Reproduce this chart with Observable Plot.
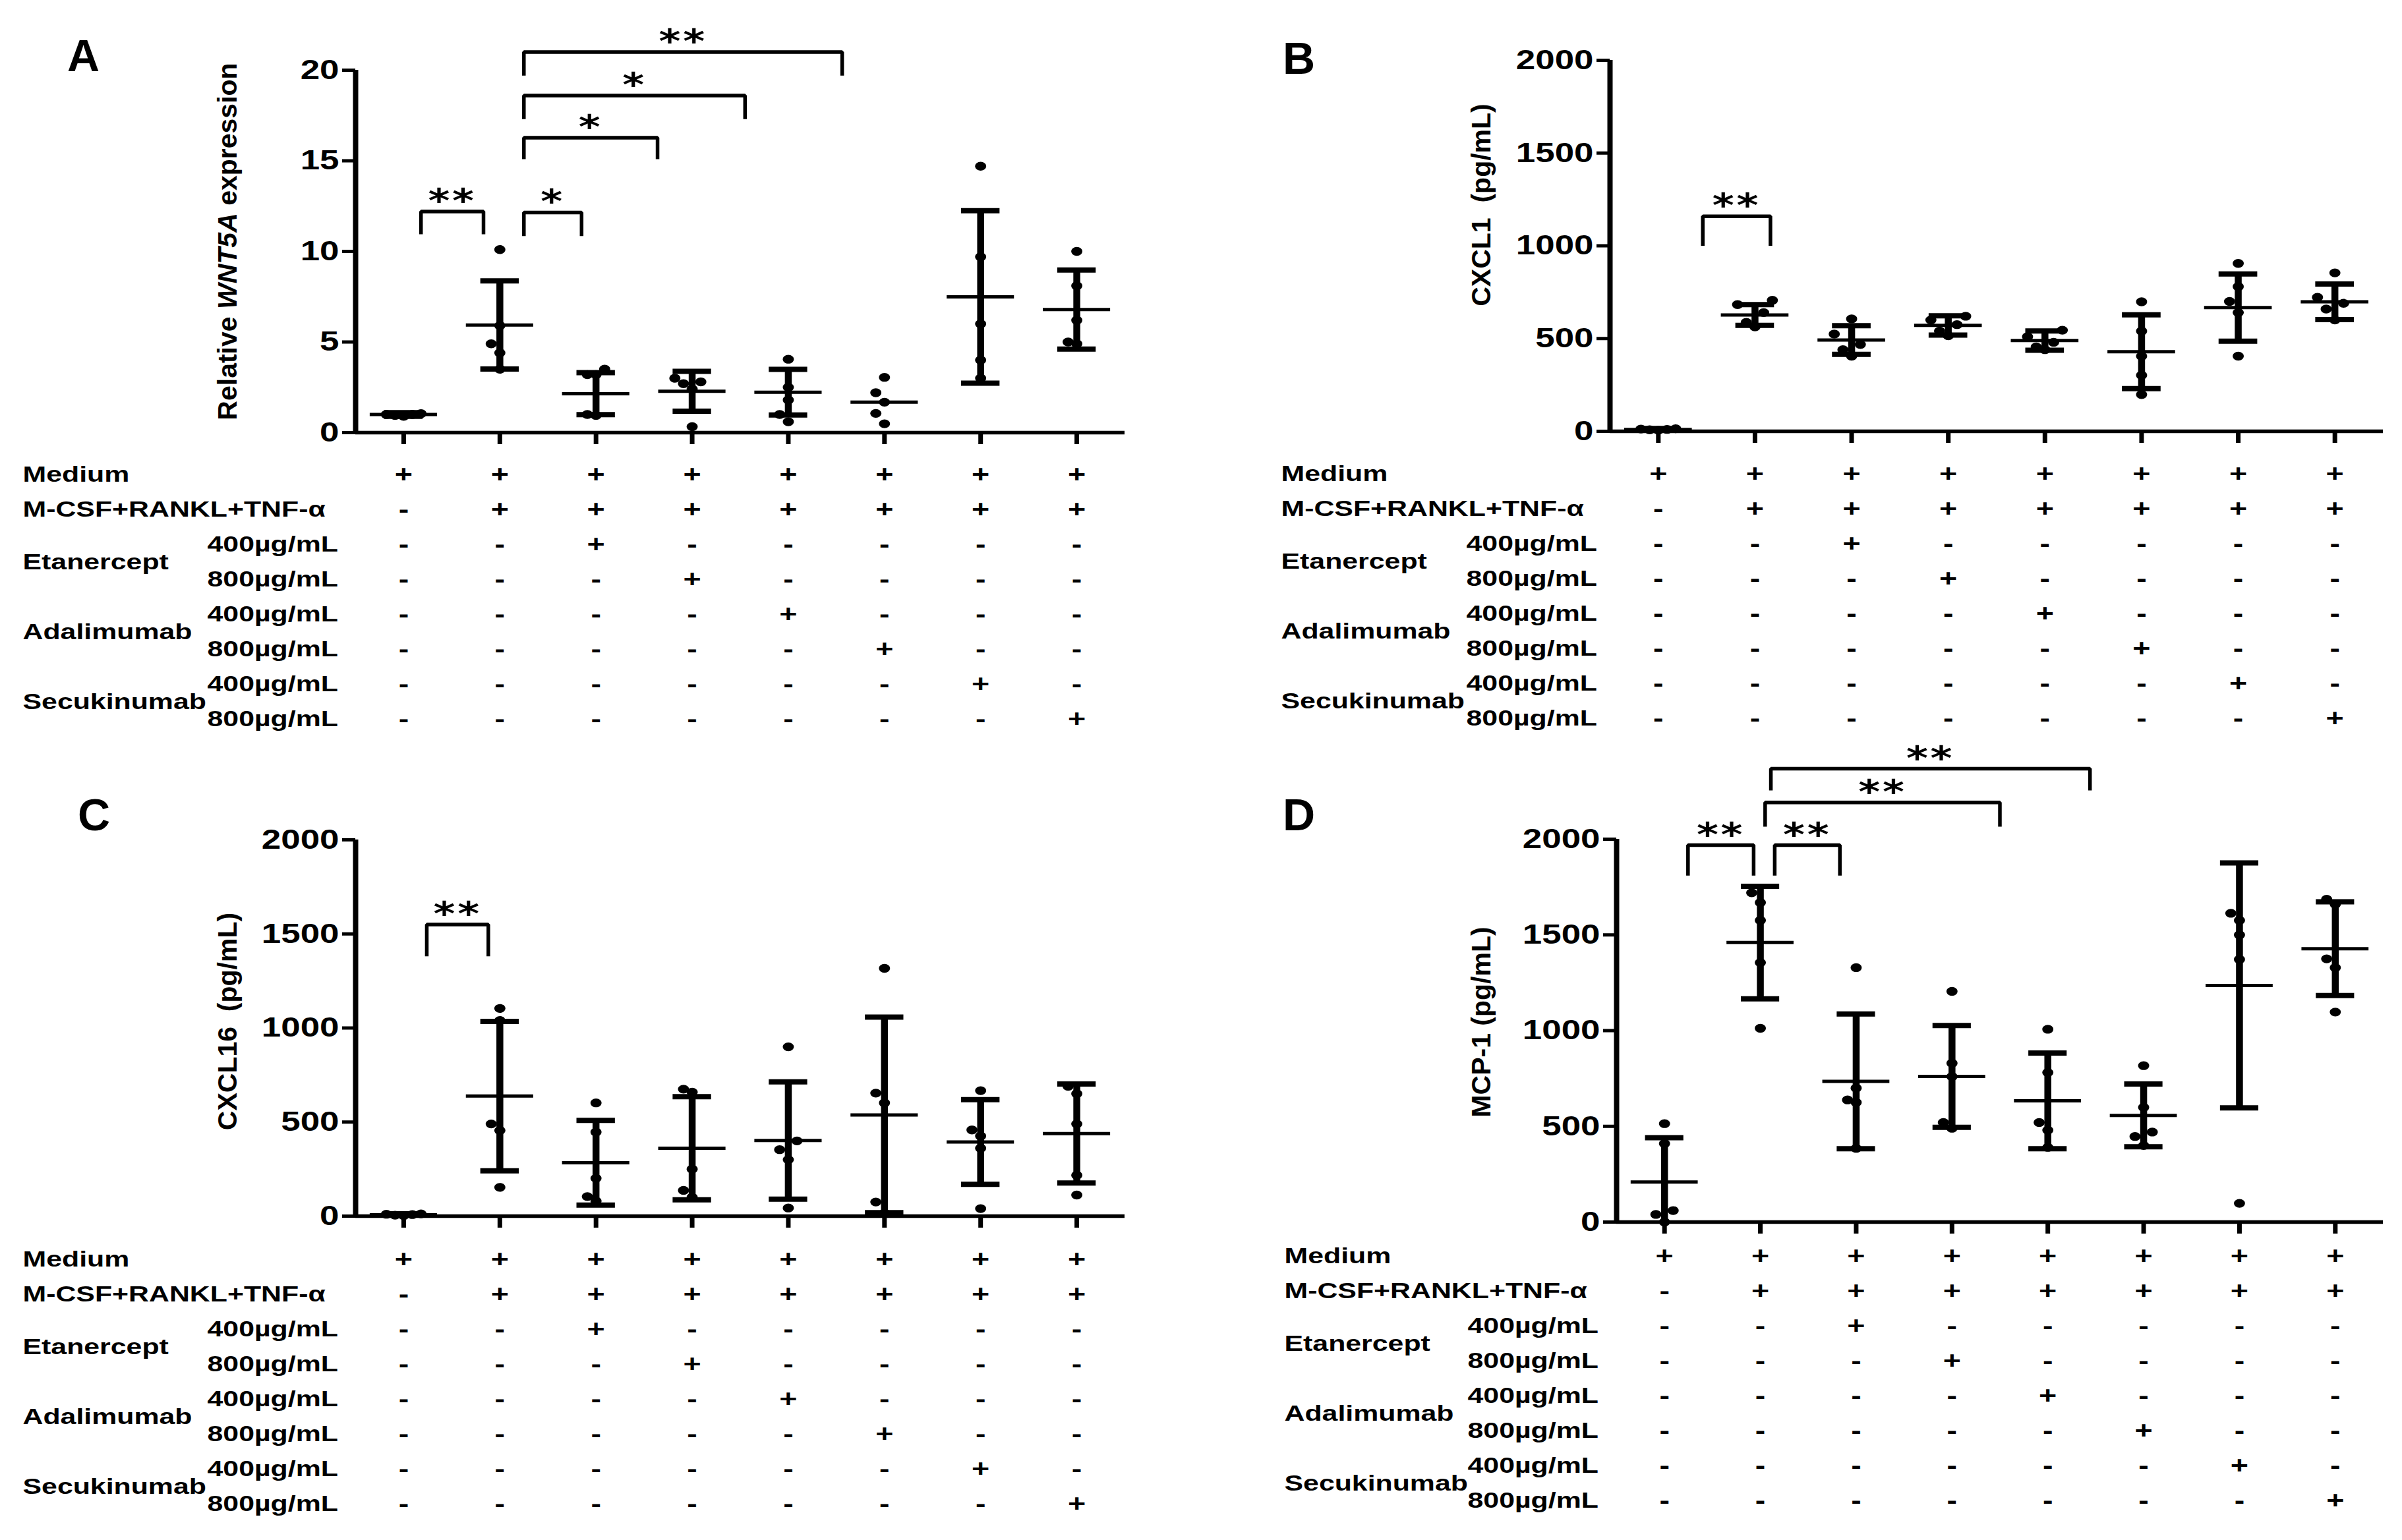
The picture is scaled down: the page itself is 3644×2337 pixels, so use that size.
<!DOCTYPE html>
<html>
<head>
<meta charset="utf-8">
<script src="https://cdn.jsdelivr.net/npm/d3@7"></script>
<script src="https://cdn.jsdelivr.net/npm/@observablehq/plot@0.6"></script>
<style>
html, body { margin: 0; padding: 0; background: #fff; }
body { width: 3644px; height: 2337px; position: relative; overflow: hidden; font-family: "Liberation Sans", Arial, sans-serif; }
.part { position: absolute; }
.letter { position: absolute; font: bold 68px "Liberation Sans", Arial, sans-serif; line-height: 68px; color: #000; }
</style>
</head>
<body>
<script>
// ---------------- DATA ----------------
const groups = ["Medium", "M-CSF+RANKL+TNF-α", "Etanercept 400µg/mL", "Etanercept 800µg/mL",
                "Adalimumab 400µg/mL", "Adalimumab 800µg/mL", "Secukinumab 400µg/mL", "Secukinumab 800µg/mL"];

// Treatment table
const rowKeys = ["Medium", "M-CSF+RANKL+TNF-α", "Etanercept 400", "Etanercept 800",
                 "Adalimumab 400", "Adalimumab 800", "Secukinumab 400", "Secukinumab 800"];
const singleRowLabels = [{row: "Medium", label: "Medium"}, {row: "M-CSF+RANKL+TNF-α", label: "M-CSF+RANKL+TNF-α"}];
const drugLabels = [{row: "Etanercept 400", label: "Etanercept"}, {row: "Adalimumab 400", label: "Adalimumab"}, {row: "Secukinumab 400", label: "Secukinumab"}];
const doseLabels = [
  {row: "Etanercept 400", label: "400µg/mL"}, {row: "Etanercept 800", label: "800µg/mL"},
  {row: "Adalimumab 400", label: "400µg/mL"}, {row: "Adalimumab 800", label: "800µg/mL"},
  {row: "Secukinumab 400", label: "400µg/mL"}, {row: "Secukinumab 800", label: "800µg/mL"}
];
const signs = [
  ["+","+","+","+","+","+","+","+"],
  ["-","+","+","+","+","+","+","+"],
  ["-","-","+","-","-","-","-","-"],
  ["-","-","-","+","-","-","-","-"],
  ["-","-","-","-","+","-","-","-"],
  ["-","-","-","-","-","+","-","-"],
  ["-","-","-","-","-","-","+","-"],
  ["-","-","-","-","-","-","-","+"]
];

// Panel A: Relative WNT5A expression
const wnt5aMean = [1.0, 5.94, 2.15, 2.28, 2.23, 1.68, 7.49, 6.79];
const wnt5aSD   = [0.1, 2.43, 1.16, 1.10, 1.26, null, 4.76, 2.18];
const wnt5aPoints = [
  [0.95, 1.0, 1.05, 1.0, 0.9],
  [10.1, 5.9, 4.9, 4.4, 3.5],
  [3.5, 3.2, 3.2, 1.0, 0.95],
  [3.0, 2.7, 2.8, 2.4, 0.33],
  [4.05, 2.5, 1.8, 1.0, 0.6],
  [3.05, 2.2, 1.68, 1.06, 0.49],
  [14.7, 9.7, 6.0, 4.0, 3.0],
  [10.0, 8.1, 6.2, 5.0, 4.9]
];
const wnt5aBrackets = [
  {from: 0.18, to: 0.83, top: 12.2, foot: 10.95, label: "**"},
  {from: 1.25, to: 1.85, top: 12.15, foot: 10.85, label: "*"},
  {from: 1.25, to: 2.64, top: 16.27, foot: 15.09, label: "*"},
  {from: 1.25, to: 3.55, top: 18.6, foot: 17.3, label: "*"},
  {from: 1.25, to: 4.56, top: 21.0, foot: 19.7, label: "**"}
];

// Panel B: CXCL1 (pg/mL)
const cxcl1Mean = [10, 627, 492, 571, 489, 429, 667, 698];
const cxcl1SD   = [5, 56, 77, 52, 52, 199, 181, 96];
const cxcl1Points = [
  [14, 10, 8, 12, 6],
  [706, 683, 640, 587, 563],
  [606, 524, 468, 440, 405],
  [620, 600, 575, 540, 515],
  [545, 510, 480, 455, 440],
  [698, 540, 405, 302, 198],
  [905, 780, 700, 640, 405],
  [854, 722, 690, 659, 600]
];
const cxcl1Brackets = [{from: 0.46, to: 1.16, top: 1159, foot: 1000, label: "**"}];

// Panel C: CXCL16 (pg/mL)
const cxcl16Mean = [7, 638, 284, 361, 402, 538, 394, 439];
const cxcl16SD   = [5, 397, 225, 274, 312, 520, 225, 263];
const cxcl16Points = [
  [12, 8, 5, 10, 3],
  [1104, 1040, 490, 455, 153],
  [602, 447, 201, 104, 80],
  [675, 659, 250, 137, 100],
  [900, 400, 353, 300, 43],
  [1317, 654, 602, 75, 16],
  [667, 458, 426, 361, 40],
  [690, 651, 490, 217, 112]
];
const cxcl16Brackets = [{from: 0.24, to: 0.88, top: 1550, foot: 1381, label: "**"}];

// Panel D: MCP-1 (pg/mL)
const mcp1Mean = [209, 1460, 735, 761, 633, 557, 1236, 1428];
const mcp1SD   = [232, 294, 352, 266, 250, 164, 640, 245];
const mcp1Points = [
  [514, 410, 60, 40, 0],
  [1720, 1669, 1576, 1355, 1012],
  [1329, 700, 638, 625, 385],
  [1205, 830, 760, 520, 490],
  [1007, 781, 520, 480, 390],
  [817, 599, 470, 447, 400],
  [1613, 1576, 1500, 1372, 98],
  [1686, 1660, 1375, 1329, 1097]
];
const mcp1Brackets = [
  {from: 0.245, to: 0.93, top: 1969, foot: 1810, label: "**"},
  {from: 1.15, to: 1.83, top: 1969, foot: 1810, label: "**"},
  {from: 1.05, to: 3.50, top: 2192, foot: 2065, label: "**"},
  {from: 1.11, to: 4.44, top: 2368, foot: 2255, label: "**"}
];

const ticks20 = [0, 5, 10, 15, 20];
const ticks2000 = [0, 500, 1000, 1500, 2000];

// ---------------- RENDERING ----------------
const FONT = "'Liberation Sans', Arial, sans-serif";
const STRETCH = 1.26;
const xDomain = [-0.5, groups.length - 0.5];
const groupIdx = d3.range(groups.length);

const ellipse = {
  draw(ctx, size) {
    const r = Math.sqrt(size / Math.PI), rx = r * 1.2, ry = r * 0.95, k = 0.5523;
    ctx.moveTo(rx, 0);
    ctx.bezierCurveTo(rx, k * ry, k * rx, ry, 0, ry);
    ctx.bezierCurveTo(-k * rx, ry, -rx, k * ry, -rx, 0);
    ctx.bezierCurveTo(-rx, -k * ry, -k * rx, -ry, 0, -ry);
    ctx.bezierCurveTo(k * rx, -ry, rx, -k * ry, rx, 0);
    ctx.closePath();
  }
};

// spread overlapping points of a group sideways (like a scatter dot plot)
function spread(points, yMax) {
  const out = [];
  points.forEach((vals, g) => {
    const sorted = vals.slice().sort((a, b) => a - b);
    let cluster = [];
    const flush = () => {
      cluster.forEach((v, k) => {
        const off = k === 0 ? 0 : (k % 2 ? -1 : 1) * Math.ceil(k / 2) * 0.09;
        out.push({g, x: g + off, v});
      });
      cluster = [];
    };
    sorted.forEach(v => {
      if (cluster.length && v - cluster[cluster.length - 1] > yMax * 0.03) flush();
      cluster.push(v);
    });
    flush();
  });
  return out;
}

function finish(svg) {
  svg.querySelectorAll("text").forEach(t => {
    const tr = t.getAttribute("transform");
    if (!tr || tr.includes("rotate")) return;
    t.setAttribute("transform", tr + ` scale(${STRETCH},1)`);
    if (/^\*+$/.test(t.textContent)) t.style.letterSpacing = "3px";
  });
  svg.querySelectorAll("text").forEach(t => {
    if (t.textContent === "Relative WNT5A expression") {
      t.textContent = "";
      const ns = "http://www.w3.org/2000/svg";
      t.appendChild(document.createTextNode("Relative "));
      const it = document.createElementNS(ns, "tspan");
      it.setAttribute("font-style", "italic");
      it.textContent = "WNT5A";
      t.appendChild(it);
      t.appendChild(document.createTextNode(" expression"));
    }
  });
  return svg;
}

function place(node, left, top) {
  node.classList.add("part");
  node.style.left = left + "px";
  node.style.top = top + "px";
  document.body.appendChild(node);
}

function renderPanel(cfg, mean, sd, points, brackets) {
  const stats = mean.map((m, g) => ({g, mean: m, sd: sd[g]}));
  const withSd = stats.filter(d => d.sd != null);
  const pts = spread(points, cfg.yMax);
  const bracketPath = brackets.flatMap((b, i) => [
    {i, x: b.from, y: b.foot}, {i, x: b.from, y: b.top}, {i, x: b.to, y: b.top}, {i, x: b.to, y: b.foot}
  ]);

  const chart = Plot.plot({
    width: cfg.width, height: cfg.height,
    marginLeft: cfg.mL, marginRight: cfg.mR, marginTop: cfg.mT, marginBottom: cfg.mB,
    style: {fontFamily: FONT, color: "black", background: "transparent", overflow: "visible"},
    x: {domain: xDomain, label: null},
    y: {domain: [0, cfg.yMax], label: null},
    marks: [
      Plot.ruleY([0], {strokeWidth: 5.5}),
      Plot.ruleX([xDomain[0]], {y1: 0, y2: cfg.yMax, strokeWidth: 8}),
      Plot.axisY({ticks: cfg.ticks, tickSize: 20, tickPadding: 5, tickFormat: "d", fontSize: 42, fontWeight: "bold", strokeWidth: 5, label: null}),
      Plot.axisX({ticks: groupIdx, tickSize: 18, tickFormat: () => "", strokeWidth: 7, label: null}),
      Plot.ruleX(withSd, {x: "g", y1: d => d.mean - d.sd, y2: d => d.mean + d.sd, strokeWidth: 10.5, clip: true}),
      Plot.ruleY(withSd, {y: d => d.mean + d.sd, x1: d => d.g - 0.2, x2: d => d.g + 0.2, strokeWidth: 8, clip: true}),
      Plot.ruleY(withSd, {y: d => d.mean - d.sd, x1: d => d.g - 0.2, x2: d => d.g + 0.2, strokeWidth: 8, clip: true}),
      Plot.ruleY(stats, {y: "mean", x1: d => d.g - 0.35, x2: d => d.g + 0.35, strokeWidth: 5}),
      Plot.dot(pts, {x: "x", y: "v", r: 7, symbol: ellipse, fill: "black", stroke: "none"}),
      Plot.line(bracketPath, {x: "x", y: "y", z: "i", strokeWidth: 5.5, strokeLinejoin: "miter", strokeLinecap: "butt"}),
      Plot.text(brackets, {x: d => (d.from + d.to) / 2, y: "top", text: "label", fontFamily: "DejaVu Sans", fontWeight: "bold", fontSize: 50, lineAnchor: "bottom", dy: 1}),
      Plot.text([cfg.title], {frameAnchor: "left", rotate: -90, dx: cfg.titleDx, dy: cfg.titleDy, fontSize: 41, fontWeight: "bold", textAnchor: "middle", lineAnchor: "middle"})
    ]
  });
  place(finish(chart), cfg.left, cfg.top);

  const t = cfg.table;
  const rowStep = (t.height - t.mT - t.mB) / (rowKeys.length - 1);
  const cells = signs.flatMap((r, i) => r.map((s, g) => ({row: rowKeys[i], g, s})));
  const table = Plot.plot({
    width: cfg.width, height: t.height,
    marginLeft: cfg.mL, marginRight: cfg.mR, marginTop: t.mT, marginBottom: t.mB,
    style: {fontFamily: FONT, color: "black", background: "transparent", overflow: "visible"},
    x: {domain: xDomain, axis: null},
    y: {type: "point", domain: rowKeys, padding: 0, axis: null},
    marks: [
      Plot.text(cells, {x: "g", y: "row", text: "s", fontSize: 37, fontWeight: "bold", lineAnchor: "middle"}),
      Plot.text(singleRowLabels, {y: "row", text: "label", frameAnchor: "left", textAnchor: "start", dx: cfg.mainDx, fontSize: 34, fontWeight: "bold", lineAnchor: "middle"}),
      Plot.text(drugLabels, {y: "row", text: "label", frameAnchor: "left", textAnchor: "start", dx: cfg.mainDx, dy: rowStep / 2, fontSize: 34, fontWeight: "bold", lineAnchor: "middle"}),
      Plot.text(doseLabels, {y: "row", text: "label", frameAnchor: "left", textAnchor: "start", dx: cfg.doseDx, fontSize: 34, fontWeight: "bold", lineAnchor: "middle"})
    ]
  });
  place(finish(table), cfg.left, t.top);

  const letter = document.createElement("div");
  letter.className = "letter";
  letter.textContent = cfg.letter;
  letter.style.left = cfg.lx + "px";
  letter.style.top = cfg.ly + "px";
  document.body.appendChild(letter);
}

renderPanel({left: 0, top: 0, width: 1750, height: 700, mL: 539, mR: 44, mT: 106, mB: 44,
  yMax: 20, ticks: ticks20, title: "Relative WNT5A expression", titleDx: -194, titleDy: -15,
  mainDx: -505, doseDx: -225, letter: "A", lx: 102, ly: 50,
  table: {top: 680, height: 450, mT: 37, mB: 36}}, wnt5aMean, wnt5aSD, wnt5aPoints, wnt5aBrackets);

renderPanel({left: 1850, top: 0, width: 1794, height: 698, mL: 592, mR: 29, mT: 91, mB: 44,
  yMax: 2000, ticks: ticks2000, title: "CXCL1  (pg/mL)", titleDx: -195, titleDy: -62,
  mainDx: -499, doseDx: -218, letter: "B", lx: 1946, ly: 54,
  table: {top: 680, height: 450, mT: 36, mB: 38}}, cxcl1Mean, cxcl1SD, cxcl1Points, cxcl1Brackets);

renderPanel({left: 0, top: 1150, width: 1750, height: 735, mL: 539, mR: 44, mT: 124, mB: 40,
  yMax: 2000, ticks: ticks2000, title: "CXCL16  (pg/mL)", titleDx: -194, titleDy: -10,
  mainDx: -505, doseDx: -225, letter: "C", lx: 118, ly: 1202,
  table: {top: 1870, height: 467, mT: 38, mB: 53}}, cxcl16Mean, cxcl16SD, cxcl16Points, cxcl16Brackets);

renderPanel({left: 1850, top: 1090, width: 1794, height: 804, mL: 602, mR: 29, mT: 183, mB: 40,
  yMax: 2000, ticks: ticks2000, title: "MCP-1 (pg/mL)", titleDx: -205, titleDy: -13,
  mainDx: -504, doseDx: -226, letter: "D", lx: 1946, ly: 1202,
  table: {top: 1870, height: 467, mT: 33, mB: 57}}, mcp1Mean, mcp1SD, mcp1Points, mcp1Brackets);
</script>
</body>
</html>
